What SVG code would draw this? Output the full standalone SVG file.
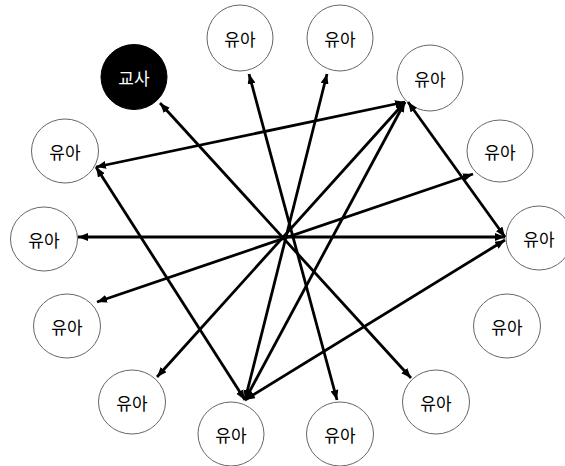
<svg xmlns="http://www.w3.org/2000/svg" width="565" height="466" viewBox="0 0 565 466">
<defs>
<style>
.n{fill:#fff;stroke:#666;stroke-width:1}
.t{font-family:"Noto Sans CJK KR","Noto Sans CJK SC",sans-serif;font-size:17px;fill:#000;text-anchor:middle;dominant-baseline:central}
.tc{fill:#000;stroke:#000}
.tw{fill:#fff}
.c{stroke:#000;stroke-width:2.8;fill:none;marker-start:url(#ah);marker-end:url(#ah)}
</style>
<marker id="ah" viewBox="0 0 10 8" refX="10" refY="4" markerWidth="10" markerHeight="8" markerUnits="userSpaceOnUse" orient="auto-start-reverse">
<path d="M0,0 L10,4 L0,8 z" fill="#000"/>
</marker>
</defs>
<rect width="565" height="466" fill="#fff"/>
<g id="teacher"><ellipse class="tc" cx="134" cy="77" rx="33" ry="32.5"/><text class="t tw" x="134" y="77">교사</text></g>
<g id="c2"><ellipse class="n" cx="240" cy="38" rx="33" ry="33"/><text class="t" x="240" y="38">유아</text></g>
<g id="c3"><ellipse class="n" cx="340" cy="38" rx="33" ry="33"/><text class="t" x="340" y="38">유아</text></g>
<g id="c4"><ellipse class="n" cx="430" cy="78" rx="33" ry="33"/><text class="t" x="430" y="78">유아</text></g>
<g id="c5"><ellipse class="n" cx="500" cy="151" rx="33" ry="31"/><text class="t" x="500" y="151">유아</text></g>
<g id="c6"><ellipse class="n" cx="539" cy="238" rx="33" ry="32"/><text class="t" x="539" y="238">유아</text></g>
<g id="c7"><ellipse class="n" cx="507" cy="326" rx="33.5" ry="32"/><text class="t" x="507" y="326">유아</text></g>
<g id="c8"><ellipse class="n" cx="436" cy="402" rx="33.5" ry="32"/><text class="t" x="436" y="402">유아</text></g>
<g id="c9"><ellipse class="n" cx="340" cy="434" rx="33.5" ry="32"/><text class="t" x="340" y="434">유아</text></g>
<g id="c10"><ellipse class="n" cx="231" cy="434" rx="33" ry="32"/><text class="t" x="231" y="434">유아</text></g>
<g id="c11"><ellipse class="n" cx="132" cy="402" rx="33.5" ry="32"/><text class="t" x="132" y="402">유아</text></g>
<g id="c12"><ellipse class="n" cx="67" cy="326" rx="33.5" ry="32"/><text class="t" x="67" y="326">유아</text></g>
<g id="c13"><ellipse class="n" cx="44" cy="239" rx="33.5" ry="32"/><text class="t" x="44" y="239">유아</text></g>
<g id="c14"><ellipse class="n" cx="65" cy="151" rx="33.5" ry="32"/><text class="t" x="65" y="151">유아</text></g>
<g id="connectors">
<line class="c" x1="160" y1="103" x2="411" y2="378"/>
<line class="c" x1="249" y1="74" x2="337" y2="400"/>
<line class="c" x1="327" y1="74" x2="245" y2="400"/>
<line class="c" x1="405" y1="102" x2="96" y2="167"/>
<line class="c" x1="405" y1="102" x2="245" y2="400"/>
<line class="c" x1="405" y1="102" x2="157" y2="377"/>
<line class="c" x1="408" y1="102" x2="505" y2="237"/>
<line class="c" x1="473" y1="174" x2="97" y2="302"/>
<line class="c" x1="78" y1="237" x2="505" y2="237"/>
<line class="c" x1="96" y1="167" x2="245" y2="400"/>
<line class="c" x1="505" y1="240" x2="245" y2="400"/>
</g>
</svg>
